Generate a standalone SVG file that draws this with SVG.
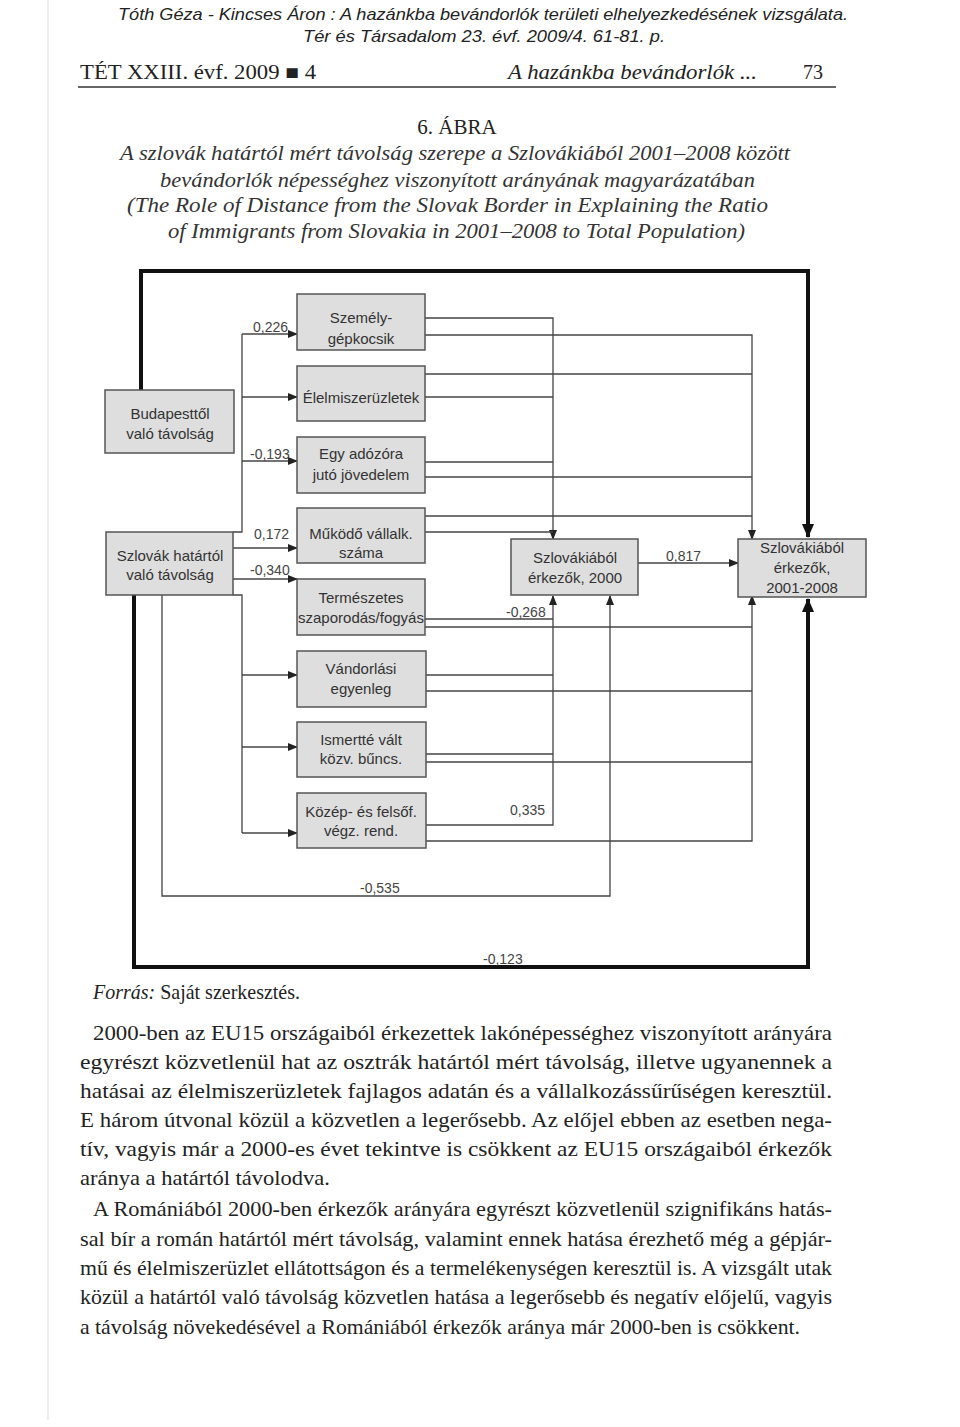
<svg xmlns="http://www.w3.org/2000/svg" width="960" height="1427" viewBox="0 0 960 1427">
<style>
.hdr{font-family:"Liberation Sans",Arial,sans-serif;font-style:italic;font-size:17px;fill:#222}
.ser{font-family:"Liberation Serif","Times New Roman",serif;fill:#222}
.ttl{font-family:"Liberation Serif","Times New Roman",serif;font-style:italic;font-size:21px;fill:#333}
.body{font-family:"Liberation Serif","Times New Roman",serif;font-size:21px;fill:#222}
.box{fill:#dedede;stroke:#555;stroke-width:1.5}
.nt{font-family:"Liberation Sans",Arial,sans-serif;font-size:15px;fill:#333;text-anchor:middle}
.lbl{font-family:"Liberation Sans",Arial,sans-serif;font-size:14px;fill:#444}
.c{fill:none;stroke:#444;stroke-width:1.3}
.t{fill:none;stroke:#111;stroke-width:4}
</style>
<defs>
<marker id="a" markerWidth="10" markerHeight="8" refX="9" refY="4" orient="auto" markerUnits="userSpaceOnUse"><path d="M0,0 L10,4 L0,8 z" fill="#222"/></marker>
<marker id="A" markerWidth="14" markerHeight="12" refX="13" refY="6" orient="auto" markerUnits="userSpaceOnUse"><path d="M0,0 L14,6 L0,12 z" fill="#111"/></marker>
</defs>
<rect width="960" height="1427" fill="#fff"/>
<line x1="48" y1="0" x2="48" y2="1420" stroke="#ddd" stroke-width="1"/>

<!-- page header -->
<text class="hdr" x="118" y="20" textLength="730" lengthAdjust="spacingAndGlyphs">Tóth Géza - Kincses Áron : A hazánkba bevándorlók területi elhelyezkedésének vizsgálata.</text>
<text class="hdr" x="303" y="42" textLength="362" lengthAdjust="spacingAndGlyphs">Tér és Társadalom 23. évf. 2009/4. 61-81. p.</text>
<text class="ser" x="80" y="79" font-size="20" textLength="236" lengthAdjust="spacingAndGlyphs">TÉT XXIII. évf. 2009 ■ 4</text>
<text class="ser" x="508" y="79" font-size="20" font-style="italic" textLength="249" lengthAdjust="spacingAndGlyphs">A hazánkba bevándorlók ...</text>
<text class="ser" x="803" y="79" font-size="20">73</text>
<line x1="78" y1="87" x2="836" y2="87" stroke="#333" stroke-width="1.5"/>

<!-- figure title -->
<text class="ser" x="457" y="134" font-size="21" text-anchor="middle">6. ÁBRA</text>
<text class="ttl" x="120" y="160" textLength="670" lengthAdjust="spacingAndGlyphs">A szlovák határtól mért távolság szerepe a Szlovákiából 2001–2008 között</text>
<text class="ttl" x="160" y="187" textLength="595" lengthAdjust="spacingAndGlyphs">bevándorlók népességhez viszonyított arányának magyarázatában</text>
<text class="ttl" x="127" y="212" textLength="641" lengthAdjust="spacingAndGlyphs">(The Role of Distance from the Slovak Border in Explaining the Ratio</text>
<text class="ttl" x="168" y="238" textLength="577" lengthAdjust="spacingAndGlyphs">of Immigrants from Slovakia in 2001–2008 to Total Population)</text>

<!-- connectors -->
<g id="connectors">
  <path class="t" d="M141,390 V271 H808 V537" marker-end="url(#A)"/>
  <path class="t" d="M134,595 V967 H808 V599" marker-end="url(#A)"/>
  <path class="c" d="M242,334 V532 H233"/>
  <path class="c" d="M242,334 H297" marker-end="url(#a)"/>
  <path class="c" d="M242,397 H297" marker-end="url(#a)"/>
  <path class="c" d="M242,461 H297" marker-end="url(#a)"/>
  <path class="c" d="M233,548 H297" marker-end="url(#a)"/>
  <path class="c" d="M233,579 H297" marker-end="url(#a)"/>
  <path class="c" d="M233,595 H242 V833"/>
  <path class="c" d="M242,675 H297" marker-end="url(#a)"/>
  <path class="c" d="M242,747 H297" marker-end="url(#a)"/>
  <path class="c" d="M242,833 H297" marker-end="url(#a)"/>
  <path class="c" d="M162,595 V896 H610 V596" marker-end="url(#a)"/>
  <path class="c" d="M425,318 H553 V539" marker-end="url(#a)"/>
  <path class="c" d="M425,335 H752 V539" marker-end="url(#a)"/>
  <path class="c" d="M425,374 H752"/>
  <path class="c" d="M425,397 H553"/>
  <path class="c" d="M425,462 H553"/>
  <path class="c" d="M425,477 H752"/>
  <path class="c" d="M425,516 H752"/>
  <path class="c" d="M425,532 H553"/>
  <path class="c" d="M425,619 H553"/>
  <path class="c" d="M425,627 H752"/>
  <path class="c" d="M426,675 H553"/>
  <path class="c" d="M426,691 H752"/>
  <path class="c" d="M426,754 H553"/>
  <path class="c" d="M426,762 H752"/>
  <path class="c" d="M426,825 H553 V596" marker-end="url(#a)"/>
  <path class="c" d="M426,841 H752 V596" marker-end="url(#a)"/>
  <path class="c" d="M638,563 H738" marker-end="url(#a)"/>
  <text class="lbl" x="253" y="332">0,226</text>
  <text class="lbl" x="250" y="459">-0,193</text>
  <text class="lbl" x="254" y="539">0,172</text>
  <text class="lbl" x="250" y="575">-0,340</text>
  <text class="lbl" x="506" y="617">-0,268</text>
  <text class="lbl" x="666" y="561">0,817</text>
  <text class="lbl" x="510" y="815">0,335</text>
  <text class="lbl" x="360" y="893">-0,535</text>
  <text class="lbl" x="483" y="964">-0,123</text>
</g>

<!-- nodes -->
<g id="budapest"><rect class="box" x="105" y="390" width="129" height="63"/><text class="nt" x="170" y="419">Budapesttől</text><text class="nt" x="170" y="439">való távolság</text></g>
<g id="szlovak-hatar"><rect class="box" x="106" y="532" width="127" height="63"/><text class="nt" x="170" y="561">Szlovák határtól</text><text class="nt" x="170" y="580">való távolság</text></g>
<g id="szemely"><rect class="box" x="297" y="294" width="128" height="56"/><text class="nt" x="361" y="323">Személy-</text><text class="nt" x="361" y="344">gépkocsik</text></g>
<g id="elelmiszer"><rect class="box" x="297" y="366" width="128" height="55"/><text class="nt" x="361" y="403">Élelmiszerüzletek</text></g>
<g id="adozo"><rect class="box" x="297" y="437" width="128" height="56"/><text class="nt" x="361" y="459">Egy adózóra</text><text class="nt" x="361" y="480">jutó jövedelem</text></g>
<g id="mukodo"><rect class="box" x="297" y="508" width="128" height="55"/><text class="nt" x="361" y="539">Működő vállalk.</text><text class="nt" x="361" y="558">száma</text></g>
<g id="termeszetes"><rect class="box" x="297" y="579" width="128" height="56"/><text class="nt" x="361" y="603">Természetes</text><text class="nt" x="361" y="623">szaporodás/fogyás</text></g>
<g id="vandorlasi"><rect class="box" x="297" y="651" width="129" height="56"/><text class="nt" x="361" y="674">Vándorlási</text><text class="nt" x="361" y="694">egyenleg</text></g>
<g id="ismertte"><rect class="box" x="297" y="722" width="129" height="55"/><text class="nt" x="361" y="745">Ismertté vált</text><text class="nt" x="361" y="764">közv. bűncs.</text></g>
<g id="kozep"><rect class="box" x="297" y="793" width="129" height="55"/><text class="nt" x="361" y="817">Közép- és felsőf.</text><text class="nt" x="361" y="836">végz. rend.</text></g>
<g id="erkezok2000"><rect class="box" x="511" y="539" width="127" height="56"/><text class="nt" x="575" y="563">Szlovákiából</text><text class="nt" x="575" y="583">érkezők, 2000</text></g>
<g id="erkezok2001"><rect class="box" x="738" y="539" width="128" height="58"/><text class="nt" x="802" y="553">Szlovákiából</text><text class="nt" x="802" y="573">érkezők,</text><text class="nt" x="802" y="593">2001-2008</text></g>

<!-- source and body text -->
<text class="body" x="93" y="999" textLength="207" lengthAdjust="spacingAndGlyphs"><tspan font-style="italic">Forrás:</tspan> Saját szerkesztés.</text>
<text class="body" x="93" y="1040" textLength="739" lengthAdjust="spacingAndGlyphs">2000-ben az EU15 országaiból érkezettek lakónépességhez viszonyított arányára</text>
<text class="body" x="80" y="1069" textLength="752" lengthAdjust="spacingAndGlyphs">egyrészt közvetlenül hat az osztrák határtól mért távolság, illetve ugyanennek a</text>
<text class="body" x="80" y="1098" textLength="752" lengthAdjust="spacingAndGlyphs">hatásai az élelmiszerüzletek fajlagos adatán és a vállalkozássűrűségen keresztül.</text>
<text class="body" x="80" y="1127" textLength="752" lengthAdjust="spacingAndGlyphs">E három útvonal közül a közvetlen a legerősebb. Az előjel ebben az esetben nega-</text>
<text class="body" x="80" y="1156" textLength="752" lengthAdjust="spacingAndGlyphs">tív, vagyis már a 2000-es évet tekintve is csökkent az EU15 országaiból érkezők</text>
<text class="body" x="80" y="1185" textLength="250" lengthAdjust="spacingAndGlyphs">aránya a határtól távolodva.</text>
<text class="body" x="93" y="1216" textLength="739" lengthAdjust="spacingAndGlyphs">A Romániából 2000-ben érkezők arányára egyrészt közvetlenül szignifikáns hatás-</text>
<text class="body" x="80" y="1246" textLength="752" lengthAdjust="spacingAndGlyphs">sal bír a román határtól mért távolság, valamint ennek hatása érezhető még a gépjár-</text>
<text class="body" x="80" y="1275" textLength="752" lengthAdjust="spacingAndGlyphs">mű és élelmiszerüzlet ellátottságon és a termelékenységen keresztül is. A vizsgált utak</text>
<text class="body" x="80" y="1304" textLength="752" lengthAdjust="spacingAndGlyphs">közül a határtól való távolság közvetlen hatása a legerősebb és negatív előjelű, vagyis</text>
<text class="body" x="80" y="1334" textLength="720" lengthAdjust="spacingAndGlyphs">a távolság növekedésével a Romániából érkezők aránya már 2000-ben is csökkent.</text>
</svg>
